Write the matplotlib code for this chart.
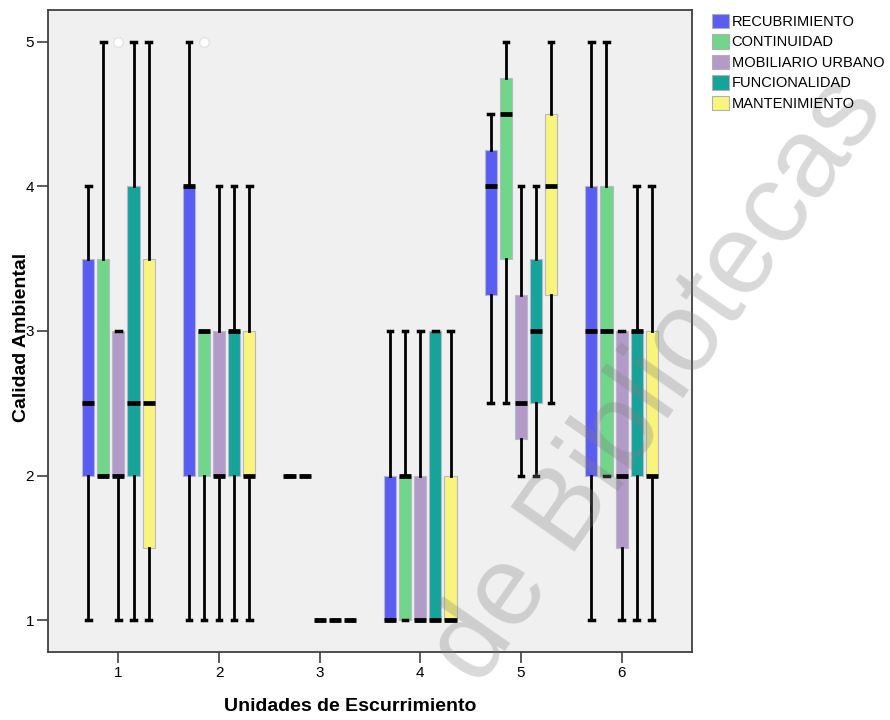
import matplotlib
matplotlib.use("Agg")
import matplotlib.pyplot as plt
import matplotlib.patches as mpatches

plt.rcParams['font.family'] = ['Liberation Sans', 'DejaVu Sans']

# Unidades de escurrimiento en el eje x
unidades = [1, 2, 3, 4, 5, 6]

series = ["RECUBRIMIENTO", "CONTINUIDAD", "MOBILIARIO URBANO",
          "FUNCIONALIDAD", "MANTENIMIENTO"]
colores = ["#5a5df2", "#6fd68a", "#b39bc9", "#16a39a", "#f8f47c"]

# resumen de cada caja por unidad: (bigote inf, Q1, mediana, Q3, bigote sup)
recubrimiento = [(1, 2, 2.5, 3.5, 4), (1, 2, 4, 4, 5), (2, 2, 2, 2, 2),
                 (1, 1, 1, 2, 3), (2.5, 3.25, 4, 4.25, 4.5), (1, 2, 3, 4, 5)]
continuidad = [(2, 2, 2, 3.5, 5), (1, 2, 3, 3, 3), (2, 2, 2, 2, 2),
               (1, 1, 2, 2, 3), (2.5, 3.5, 4.5, 4.75, 5), (2, 2, 3, 4, 5)]
mobiliario = [(1, 2, 2, 3, 3), (1, 2, 2, 3, 4), (1, 1, 1, 1, 1),
              (1, 1, 1, 2, 3), (2, 2.25, 2.5, 3.25, 4), (1, 1.5, 2, 3, 3)]
funcionalidad = [(1, 2, 2.5, 4, 5), (1, 2, 3, 3, 4), (1, 1, 1, 1, 1),
                 (1, 1, 1, 3, 3), (2, 2.5, 3, 3.5, 4), (1, 2, 3, 3, 4)]
mantenimiento = [(1, 1.5, 2.5, 3.5, 5), (1, 2, 2, 3, 4), (1, 1, 1, 1, 1),
                 (1, 1, 1, 2, 3), (2.5, 3.25, 4, 4.5, 5), (1, 2, 2, 3, 4)]

# valores atípicos: (serie, unidad) -> valores
atipicos = {(2, 1): [5], (1, 2): [5]}

datos = [recubrimiento, continuidad, mobiliario, funcionalidad, mantenimiento]

fig = plt.figure(figsize=(8.9, 7.2), dpi=100)
ax = fig.add_axes([48 / 890, 68 / 720, 644 / 890, 642 / 720])
ax.set_facecolor("#f0f0f0")

offsets = [-0.30, -0.15, 0.0, 0.15, 0.30]
ancho = 0.12

for i, serie in enumerate(datos):
    stats = []
    for j, (lo, q1, med, q3, hi) in enumerate(serie):
        stats.append(dict(whislo=lo, q1=q1, med=med, q3=q3, whishi=hi,
                          fliers=atipicos.get((i, unidades[j]), [])))
    pos = [u + offsets[i] for u in unidades]
    ax.bxp(stats, positions=pos, widths=ancho, capwidths=0.045,
           patch_artist=True, manage_ticks=False,
           boxprops=dict(facecolor=colores[i], edgecolor="#b8b8c8", linewidth=0.8),
           medianprops=dict(color="black", linewidth=3.4, solid_capstyle="butt"),
           whiskerprops=dict(color="black", linewidth=2),
           capprops=dict(color="black", linewidth=2.5),
           flierprops=dict(marker="o", markersize=7, markerfacecolor="white",
                           markeredgecolor="#e4e4e4"))

ax.set_xlim(0.3, 6.7)
ax.set_ylim(0.78, 5.22)
ax.set_xticks(unidades)
ax.set_yticks([1, 2, 3, 4, 5])
ax.tick_params(axis="both", labelsize=11, length=8, width=1.2,
               color="#404040", pad=2)
for s in ax.spines.values():
    s.set_color("#404040")
    s.set_linewidth(1.3)

ax.set_xlabel("Unidades de Escurrimiento", fontsize=14, fontweight="bold")
ax.set_ylabel("Calidad Ambiental", fontsize=14, fontweight="bold")
ax.xaxis.set_label_coords(0.469, -0.072)
ax.yaxis.set_label_coords(-0.028, 0.49)

handles = [mpatches.Patch(facecolor=c, edgecolor="#b0b0b0", linewidth=0.8, label=s)
           for s, c in zip(series, colores)]
fig.legend(handles=handles, loc="upper left",
           bbox_to_anchor=(706 / 890, 1 - 8 / 720), frameon=False,
           fontsize=10.5, handlelength=1.15, handleheight=1.15,
           handletextpad=0.2, labelspacing=0.36, borderaxespad=0)

# marca de agua
fig.text(0.74, 0.47, "de Bibliotecas", fontsize=82, color="gray",
         alpha=0.3, rotation=55, ha="center", va="center")

fig.savefig("out.png", dpi=100)
